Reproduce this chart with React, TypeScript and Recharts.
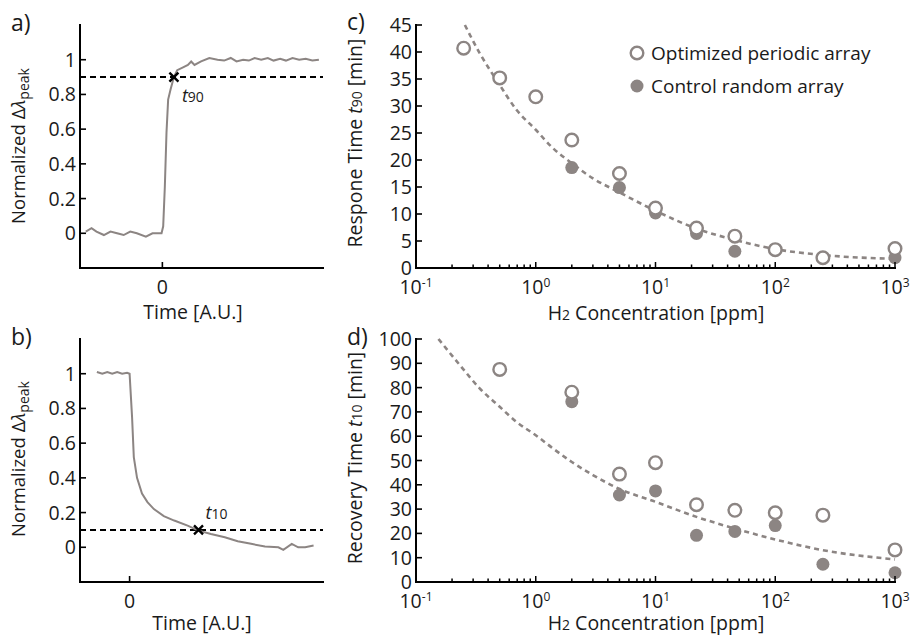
import { ComposedChart, Line, Scatter, XAxis, YAxis, ReferenceLine, Legend } from "recharts"

const GREY = "#8c8583"
const INK = "#1a1a1a"
const FONT = "'Open Sans', 'DejaVu Sans', sans-serif"

// a) normalized peak shift during H2 exposure (time in A.U.)
const riseTime = [
  -0.93, -0.86, -0.8, -0.71, -0.63, -0.55, -0.47, -0.39, -0.31, -0.2, -0.12, -0.01,
  0.01, 0.03, 0.05, 0.07, 0.1, 0.14, 0.18, 0.245, 0.31, 0.35, 0.39, 0.47, 0.57, 0.67,
  0.75, 0.83, 0.9, 0.98, 1.05, 1.12, 1.2, 1.28, 1.35, 1.43, 1.5, 1.58, 1.66, 1.74, 1.82, 1.9,
]
const riseValue = [
  0.01, 0.03, 0.01, -0.01, 0.01, 0.0, -0.01, 0.01, 0.0, -0.02, 0.0, 0.0,
  0.04, 0.27, 0.58, 0.77, 0.83, 0.9, 0.94, 0.955, 0.97, 0.99, 0.97, 0.99, 1.01, 1.0,
  0.995, 1.01, 0.99, 1.0, 0.995, 1.01, 1.0, 1.01, 0.995, 1.005, 0.995, 1.01, 1.0, 1.005, 0.995, 1.0,
]
const riseMark = [0.14, 0.9]

// b) recovery after H2 removal
const fallTime = [
  -0.66, -0.55, -0.45, -0.35, -0.25, -0.15, -0.05, 0.0, 0.05, 0.085, 0.15, 0.25, 0.36,
  0.49, 0.69, 0.9, 1.17, 1.39, 1.64, 1.92, 2.18, 2.45, 2.73, 3.0, 3.1, 3.27, 3.4, 3.54, 3.71,
]
const fallValue = [
  1.01, 1.0, 1.01, 1.0, 1.01, 1.0, 1.005, 1.0, 0.75, 0.52, 0.4, 0.31, 0.26,
  0.22, 0.18, 0.154, 0.125, 0.096, 0.077, 0.058, 0.035, 0.02, 0.004, 0.0, -0.015, 0.02, 0.0, 0.0, 0.01,
]
const fallMark = [1.39, 0.1]

// c) response time t90 [min] vs H2 concentration [ppm]
const concPeriodicC = [0.25, 0.5, 1, 2, 5, 10, 22, 46, 100, 250, 1000]
const periodicC = [40.7, 35.2, 31.7, 23.7, 17.5, 11.1, 7.4, 5.9, 3.4, 1.9, 3.6]
const concRandomC = [2, 5, 10, 22, 46, 1000]
const randomC = [18.6, 14.9, 10.2, 6.4, 3.1, 1.9]
const concFitC = [0.256, 0.34, 0.5, 0.69, 1, 1.39, 2, 3, 4.9, 10, 22, 46, 100, 250, 1000]
const fitC = [45, 39.8, 33.9, 29.3, 25.6, 22.2, 19.4, 16.6, 14.1, 10.6, 7.3, 5.2, 3.5, 2.4, 1.7]

// d) recovery time t10 [min] vs H2 concentration [ppm]
const concPeriodicD = [0.5, 2, 5, 10, 22, 46, 100, 250, 1000]
const periodicD = [87.5, 78.1, 44.4, 49.1, 31.8, 29.5, 28.5, 27.5, 13.2]
const concRandomD = [2, 5, 10, 22, 46, 100, 250, 1000]
const randomD = [74.2, 35.8, 37.5, 19.2, 20.8, 23.2, 7.3, 3.8]
const concFitD = [0.154, 0.232, 0.34, 0.5, 0.69, 1, 1.39, 2, 3, 4.9, 10, 22, 46, 100, 250, 1000]
const fitD = [100, 89.3, 79.7, 72.1, 65.9, 60.4, 55, 49.4, 44, 38.5, 33, 26.8, 22, 17.5, 13.1, 9.3]

const normTicks = [0, 0.2, 0.4, 0.6, 0.8, 1]
const timeTicks = [0]
const ticksC = [0, 5, 10, 15, 20, 25, 30, 35, 40, 45]
const ticksD = [0, 10, 20, 30, 40, 50, 60, 70, 80, 90, 100]
const decades = [0.1, 1, 10, 100, 1000]
const minorSteps = [2, 3, 4, 5, 6, 7, 8, 9]
const logTicks = [
  ...decades,
  ...decades.slice(0, -1).flatMap((d) => minorSteps.map((m) => +(d * m).toPrecision(3))),
]

const pairs = (xs: number[], ys: number[]) => xs.map((x, i) => ({ x, y: ys[i] }))

const tickFont = { fontFamily: FONT, fontSize: 19.5, fill: INK }
const axisLine = { stroke: "#000", strokeWidth: 2, strokeLinecap: "square" as const }

// ticks point into the plot (matlab style); labels stay outside
const leftTick = (labels: boolean) => (p: any) => (
  <g>
    <line x1={p.x} y1={p.y} x2={p.x + 6} y2={p.y} stroke="#000" strokeWidth={1.6} />
    {labels && (
      <text x={p.x - 4} y={p.y + 7} textAnchor="end" {...tickFont}>
        {p.payload.value}
      </text>
    )}
  </g>
)
const rightTick = (p: any) => (
  <line x1={p.x} y1={p.y} x2={p.x - 6} y2={p.y} stroke="#000" strokeWidth={1.6} />
)
const linTick = (side: "top" | "bottom") => (p: any) => {
  const dir = side === "top" ? 1 : -1
  return (
    <g>
      <line x1={p.x} y1={p.y} x2={p.x} y2={p.y + dir * 6} stroke="#000" strokeWidth={1.6} />
      {side === "bottom" && (
        <text x={p.x} y={p.y + 26} textAnchor="middle" {...tickFont}>
          {p.payload.value}
        </text>
      )}
    </g>
  )
}
const logTick = (side: "top" | "bottom") => (p: any) => {
  const v = p.payload.value
  const major = decades.includes(v)
  const dir = side === "top" ? 1 : -1
  const len = major ? 6 : 3.5
  return (
    <g>
      <line x1={p.x} y1={p.y} x2={p.x} y2={p.y + dir * len} stroke="#000" strokeWidth={1.5} />
      {side === "bottom" && major && (
        <text x={p.x} y={p.y + 26} textAnchor="middle" {...tickFont}>
          10
          <tspan dy={-7} fontSize={12}>
            {Math.round(Math.log10(v))}
          </tspan>
        </text>
      )}
    </g>
  )
}

const cross = (label: string, dx: number, dy: number) => (p: any) => (
  <g>
    <path
      d={`M${p.cx - 4.5},${p.cy - 4.5}L${p.cx + 4.5},${p.cy + 4.5}M${p.cx - 4.5},${p.cy + 4.5}L${p.cx + 4.5},${p.cy - 4.5}`}
      stroke="#000"
      strokeWidth={2.4}
    />
    <text x={p.cx + dx} y={p.cy + dy} fontFamily={FONT} fontSize={18} fill={INK}>
      <tspan fontStyle="italic">t</tspan>
      <tspan fontSize={14}>{label}</tspan>
    </text>
  </g>
)

const openDot = (p: any) => <circle cx={p.cx} cy={p.cy} r={6.3} fill="#fff" stroke={GREY} strokeWidth={2.4} />
const fullDot = (p: any) => <circle cx={p.cx} cy={p.cy} r={6.5} fill={GREY} />

function TracePanel({ trace, mark, level, xDomain, top, label, dx, dy }: any) {
  return (
    <ComposedChart width={330} height={320} margin={{ top, right: 7, bottom: 0, left: 0 }}>
      <XAxis dataKey="x" type="number" domain={xDomain} ticks={timeTicks} height={320 - top - 243}
        tickSize={0} tickMargin={0} tickLine={false} axisLine={axisLine} tick={linTick("bottom")} />
      <XAxis xAxisId="top" orientation="top" type="number" domain={xDomain} ticks={timeTicks} height={0}
        tickSize={0} tickMargin={0} tickLine={false} axisLine={axisLine} tick={linTick("top")} />
      <YAxis type="number" domain={[-0.2, 1.2]} ticks={normTicks} width={80}
        tickSize={0} tickMargin={0} tickLine={false} axisLine={axisLine} tick={leftTick(true)} />
      <YAxis yAxisId="right" orientation="right" type="number" domain={[-0.2, 1.2]} ticks={normTicks} width={0}
        tickSize={0} tickMargin={0} tickLine={false} axisLine={axisLine} tick={rightTick} />
      <ReferenceLine y={level} stroke="#000" strokeWidth={2} strokeDasharray="6 4" />
      <Line data={trace} dataKey="y" stroke={GREY} strokeWidth={2} dot={false} isAnimationActive={false} />
      <Scatter data={[{ x: mark[0], y: mark[1] }]} dataKey="y" shape={cross(label, dx, dy)} isAnimationActive={false} />
    </ComposedChart>
  )
}

function LegendBox() {
  const row = { display: "flex", alignItems: "center", height: 33, whiteSpace: "nowrap" as const }
  return (
    <div style={{ fontFamily: FONT, fontSize: 19, color: INK }}>
      <div style={row}>
        <svg width={22} height={18}>
          <circle cx={8} cy={9} r={6.3} fill="#fff" stroke={GREY} strokeWidth={2.4} />
        </svg>
        Optimized periodic array
      </div>
      <div style={row}>
        <svg width={22} height={18}>
          <circle cx={8} cy={9} r={6.5} fill={GREY} />
        </svg>
        Control random array
      </div>
    </div>
  )
}

function ConcPanel({ open, full, fit, yMax, yTicks, top, legend }: any) {
  return (
    <ComposedChart width={582} height={320} margin={{ top, right: 17, bottom: 0, left: 0 }}>
      <XAxis dataKey="x" type="number" scale="log" domain={[0.1, 1000]} ticks={logTicks} interval={0}
        height={320 - top - 243} tickSize={0} tickMargin={0} tickLine={false} axisLine={axisLine} tick={logTick("bottom")} />
      <XAxis xAxisId="top" orientation="top" type="number" scale="log" domain={[0.1, 1000]} ticks={logTicks}
        interval={0} height={0} tickSize={0} tickMargin={0} tickLine={false} axisLine={axisLine} tick={logTick("top")} />
      <YAxis type="number" domain={[0, yMax]} ticks={yTicks} interval={0} width={86}
        tickSize={0} tickMargin={0} tickLine={false} axisLine={axisLine} tick={leftTick(true)} />
      <YAxis yAxisId="right" orientation="right" type="number" domain={[0, yMax]} ticks={yTicks} interval={0}
        width={0} tickSize={0} tickMargin={0} tickLine={false} axisLine={axisLine} tick={rightTick} />
      <Line data={fit} dataKey="y" type="monotone" stroke={GREY} strokeWidth={2.6} strokeDasharray="5 4"
        dot={false} isAnimationActive={false} />
      <Scatter data={full} dataKey="y" shape={fullDot} isAnimationActive={false} />
      <Scatter data={open} dataKey="y" shape={openDot} isAnimationActive={false} />
      {legend && (
        <Legend layout="vertical" align="center" verticalAlign="middle" content={() => <LegendBox />}
          wrapperStyle={{ left: 299, top: 36, width: "auto" }} />
      )}
    </ComposedChart>
  )
}

const place = (left: number, top: number) => ({ position: "absolute" as const, left, top })

export default function App() {
  const title = { fontFamily: FONT, fontSize: 19.5, fill: INK }
  const sideTitle = { fontFamily: FONT, fontSize: 18.5, fill: INK }
  const sub = 14
  const letter = { fontFamily: FONT, fontSize: 23, fill: INK }
  return (
    <div style={{ position: "absolute", left: 0, top: 0, width: 912, height: 636, background: "#fff" }}>
      <div style={place(0, 0)}>
        <TracePanel trace={pairs(riseTime, riseValue)} mark={riseMark} level={0.9} xDomain={[-1, 1.95]}
          top={25} label="90" dx={8} dy={25} />
      </div>
      <div style={place(0, 316)}>
        <TracePanel trace={pairs(fallTime, fallValue)} mark={fallMark} level={0.1} xDomain={[-1, 3.9]}
          top={23} label="10" dx={7} dy={-11} />
      </div>
      <div style={place(330, 0)}>
        <ConcPanel open={pairs(concPeriodicC, periodicC)} full={pairs(concRandomC, randomC)}
          fit={pairs(concFitC, fitC)} yMax={45} yTicks={ticksC} top={25} legend />
      </div>
      <div style={place(330, 316)}>
        <ConcPanel open={pairs(concPeriodicD, periodicD)} full={pairs(concRandomD, randomD)}
          fit={pairs(concFitD, fitD)} yMax={100} yTicks={ticksD} top={23} />
      </div>
      <svg width={912} height={636} style={{ ...place(0, 0), pointerEvents: "none" }}>
        <text x={11} y={31} {...letter}>a)</text>
        <text x={11} y={345} {...letter}>b)</text>
        <text x={347} y={30} {...letter}>c)</text>
        <text x={347} y={345} {...letter}>d)</text>

        <text transform="translate(25,146) rotate(-90)" textAnchor="middle" {...sideTitle}>
          Normalized Δ<tspan fontStyle="italic">λ</tspan>
          <tspan fontSize={sub} dy={4}>peak</tspan>
        </text>
        <text transform="translate(25,459) rotate(-90)" textAnchor="middle" {...sideTitle}>
          Normalized Δ<tspan fontStyle="italic">λ</tspan>
          <tspan fontSize={sub} dy={4}>peak</tspan>
        </text>
        <text transform="translate(362,143) rotate(-90)" textAnchor="middle" {...title}>
          Respone Time <tspan fontStyle="italic">t</tspan>
          <tspan fontSize={sub}>90</tspan> [min]
        </text>
        <text transform="translate(362,458) rotate(-90)" textAnchor="middle" {...title}>
          Recovery Time <tspan fontStyle="italic">t</tspan>
          <tspan fontSize={sub}>10</tspan> [min]
        </text>

        <text x={193} y={319} textAnchor="middle" {...title}>Time [A.U.]</text>
        <text x={202} y={630} textAnchor="middle" {...title}>Time [A.U.]</text>
        <text x={656} y={320} textAnchor="middle" {...title}>
          H<tspan fontSize={sub}>2</tspan> Concentration [ppm]
        </text>
        <text x={656} y={630} textAnchor="middle" {...title}>
          H<tspan fontSize={sub}>2</tspan> Concentration [ppm]
        </text>
      </svg>
    </div>
  )
}
